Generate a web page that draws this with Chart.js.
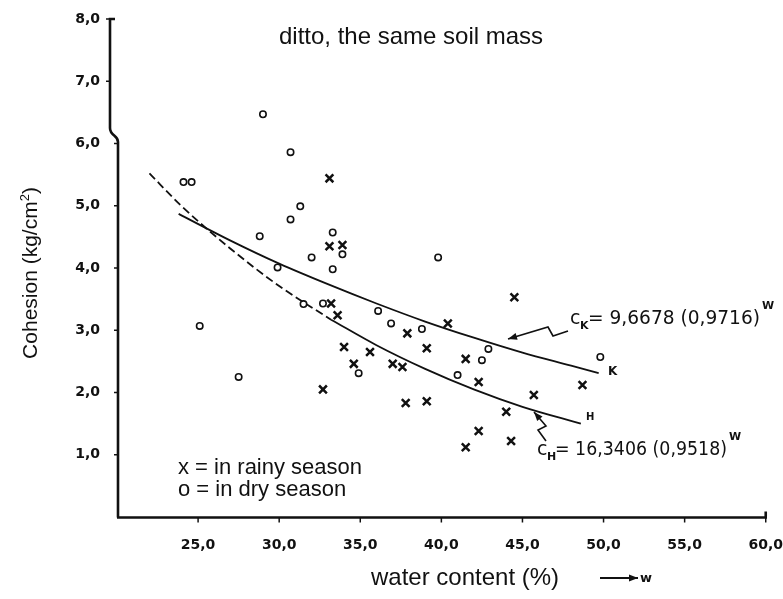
<!DOCTYPE html>
<html>
<head>
<meta charset="utf-8">
<script src="https://cdn.jsdelivr.net/npm/chart.js@4.4.1/dist/chart.umd.min.js"></script>
<style>
  body { margin: 0; background: #fff; }
  canvas { display: block; }
</style>
</head>
<body>
<canvas id="chart" width="783" height="599"></canvas>
<script>
// axis ticks
const xTicks = [25, 30, 35, 40, 45, 50, 55, 60];
const yTicks = [1, 2, 3, 4, 5, 6, 7, 8];

// o = dry season (water content %, cohesion kg/cm2)
const dryW = [29.0, 30.7, 24.1, 24.6, 31.3, 30.7, 28.8, 33.3, 33.9, 32.0, 29.9, 33.3, 39.8,
              31.5, 32.7, 36.1, 36.9, 25.1, 38.8, 34.9, 27.5, 42.9, 42.5, 41.0, 49.8];
const dryC = [6.47, 5.86, 5.38, 5.38, 4.99, 4.78, 4.51, 4.57, 4.22, 4.17, 4.01, 3.98, 4.17,
              3.42, 3.43, 3.31, 3.11, 3.07, 3.02, 2.31, 2.25, 2.70, 2.52, 2.28, 2.57];

// x = rainy season
const rainyW = [33.1, 33.1, 33.9, 33.2, 33.6, 44.5, 40.4, 34.0, 35.6, 37.9, 39.1, 34.6, 37.0,
                37.6, 41.5, 42.3, 32.7, 37.8, 39.1, 45.7, 44.0, 42.3, 44.3, 41.5, 48.7];
const rainyC = [5.44, 4.35, 4.37, 3.43, 3.24, 3.53, 3.11, 2.73, 2.65, 2.95, 2.71, 2.46, 2.46,
                2.41, 2.54, 2.17, 2.05, 1.83, 1.86, 1.96, 1.69, 1.38, 1.22, 1.12, 2.12];

// fitted curves
const kW = [23.8, 27, 30, 33, 36, 39, 42, 45, 48, 49.7];
const kC = [4.87, 4.44, 4.07, 3.74, 3.43, 3.14, 2.88, 2.64, 2.43, 2.31];
const hDashW = [22.0, 24, 27, 30, 33.2];
const hDashC = [5.52, 4.99, 4.31, 3.71, 3.17];
const hW = [33.2, 36, 39, 42, 45, 48.6];
const hC = [3.17, 2.76, 2.38, 2.05, 1.77, 1.50];

const ink = '#111';
const pts = (xs, ys) => xs.map((v, i) => ({ x: v, y: ys[i] }));
const fmt = v => Number(v).toFixed(1).replace('.', ',');

function arrow(ctx, p) {
  ctx.beginPath();
  ctx.moveTo(p[0][0], p[0][1]);
  for (let i = 1; i < p.length; i++) ctx.lineTo(p[i][0], p[i][1]);
  ctx.stroke();
  const a = p[p.length - 2], b = p[p.length - 1];
  const ang = Math.atan2(b[1] - a[1], b[0] - a[0]);
  ctx.save();
  ctx.translate(b[0], b[1]);
  ctx.rotate(ang);
  ctx.beginPath();
  ctx.moveTo(0, 0);
  ctx.lineTo(-9, -3.5);
  ctx.lineTo(-9, 3.5);
  ctx.closePath();
  ctx.fill();
  ctx.restore();
}

function formula(ctx, x, base, sub, body, bodyW, sup) {
  ctx.textAlign = 'left';
  ctx.textBaseline = 'alphabetic';
  ctx.font = '19px "DejaVu Sans"';
  ctx.fillText('c', x, base);
  ctx.font = 'bold 11px "DejaVu Sans"';
  ctx.fillText(sub, x + 10, base + 5);
  ctx.font = '19px "DejaVu Sans"';
  ctx.fillText(body, x + 18, base, bodyW);
  ctx.font = 'bold 11px "DejaVu Sans"';
  ctx.fillText(sup, x + 18 + bodyW + 2, base - 15);
}

const decor = {
  id: 'decor',
  afterDraw(chart) {
    const ctx = chart.ctx;
    const xs = chart.scales.x, ys = chart.scales.y;
    const bottom = Math.round(ys.getPixelForValue(0)) + 0.5;
    const right = xs.getPixelForValue(60);
    const top = ys.getPixelForValue(8);
    ctx.save();
    ctx.strokeStyle = ink;
    ctx.fillStyle = ink;

    // y axis with its kink near 6,0
    ctx.lineWidth = 2.6;
    ctx.beginPath();
    ctx.moveTo(118, bottom);
    ctx.lineTo(118, 142);
    ctx.bezierCurveTo(118, 135, 110, 136, 110, 128);
    ctx.lineTo(110, top);
    ctx.lineTo(115, top);
    ctx.stroke();
    // x axis
    ctx.beginPath();
    ctx.moveTo(117, bottom);
    ctx.lineTo(right, bottom);
    ctx.lineTo(right, bottom - 6);
    ctx.stroke();
    // tick marks
    ctx.lineWidth = 1.5;
    yTicks.forEach(v => {
      const py = ys.getPixelForValue(v);
      const ax = py < 135 ? 110 : 118;
      ctx.beginPath();
      ctx.moveTo(ax - 4, py);
      ctx.lineTo(ax, py);
      ctx.stroke();
    });
    xTicks.forEach(v => {
      const px = xs.getPixelForValue(v);
      ctx.beginPath();
      ctx.moveTo(px, bottom);
      ctx.lineTo(px, bottom + 5);
      ctx.stroke();
    });

    // title and axis titles
    ctx.textBaseline = 'middle';
    ctx.textAlign = 'center';
    ctx.font = '24px "Liberation Sans"';
    ctx.fillText('ditto, the same soil mass', 411, 37);
    ctx.fillText('water content (%)', 465, 578);
    ctx.save();
    ctx.translate(31, 273);
    ctx.rotate(-Math.PI / 2);
    ctx.font = '21px "Liberation Sans"';
    const t1 = 'Cohesion (kg/cm', t2 = ')';
    const w1 = ctx.measureText(t1).width;
    ctx.font = '13px "Liberation Sans"';
    const ws = ctx.measureText('2').width;
    ctx.font = '21px "Liberation Sans"';
    const w2 = ctx.measureText(t2).width;
    const x0 = -(w1 + ws + w2) / 2;
    ctx.textAlign = 'left';
    ctx.fillText(t1, x0, 0);
    ctx.font = '13px "Liberation Sans"';
    ctx.fillText('2', x0 + w1, -6);
    ctx.font = '21px "Liberation Sans"';
    ctx.fillText(t2, x0 + w1 + ws, 0);
    ctx.restore();

    // arrow to w
    ctx.lineWidth = 2;
    arrow(ctx, [[600, 578], [638, 578]]);
    ctx.textAlign = 'left';
    ctx.font = 'bold 13px "DejaVu Sans"';
    ctx.fillText('w', 640, 579);

    // legend text
    ctx.font = '22px "Liberation Sans"';
    ctx.fillText('x = in rainy season', 178, 468);
    ctx.fillText('o = in dry season', 178, 490);

    // curve labels
    ctx.font = 'bold 12px "DejaVu Sans"';
    ctx.fillText('K', 608, 372);
    ctx.font = 'bold 10px "DejaVu Sans"';
    ctx.fillText('H', 586, 417);

    formula(ctx, 570, 324, 'K', '= 9,6678 (0,9716)', 172, 'W');
    formula(ctx, 537, 455, 'H', '= 16,3406 (0,9518)', 172, 'W');

    ctx.lineWidth = 1.6;
    arrow(ctx, [[568, 331], [553, 336], [548, 327], [508, 339]]);
    arrow(ctx, [[546, 441], [538, 430], [546, 426], [534, 412]]);
    ctx.restore();
  }
};

new Chart(document.getElementById('chart'), {
  type: 'scatter',
  data: {
    datasets: [
      { type: 'line', data: pts(kW, kC), borderColor: ink, borderWidth: 1.8,
        pointRadius: 0, cubicInterpolationMode: 'monotone', order: 3 },
      { type: 'line', data: pts(hDashW, hDashC), borderColor: ink, borderWidth: 1.8,
        borderDash: [8, 4], pointRadius: 0, cubicInterpolationMode: 'monotone', order: 3 },
      { type: 'line', data: pts(hW, hC), borderColor: ink, borderWidth: 1.8,
        pointRadius: 0, cubicInterpolationMode: 'monotone', order: 3 },
      { data: pts(dryW, dryC), pointStyle: 'circle', pointRadius: 3.2, borderWidth: 1.6,
        borderColor: ink, backgroundColor: '#fff', order: 1 },
      { data: pts(rainyW, rainyC), pointStyle: 'crossRot', pointRadius: 5.5, borderWidth: 2.5,
        borderColor: ink, order: 1 }
    ]
  },
  options: {
    responsive: false,
    animation: false,
    events: [],
    layout: { padding: { top: 19, right: 17, left: 0, bottom: 0 } },
    plugins: { legend: { display: false }, tooltip: { enabled: false } },
    scales: {
      x: {
        type: 'linear', min: 20, max: 60,
        afterBuildTicks: s => { s.ticks = xTicks.map(v => ({ value: v })); },
        afterFit: s => { s.height = 82; },
        border: { display: false },
        grid: { drawOnChartArea: false, drawTicks: true, tickLength: 20, color: 'rgba(0,0,0,0)' },
        ticks: { autoSkip: false, maxRotation: 0, padding: 0, color: ink,
                 font: { family: 'DejaVu Sans', size: 14, weight: 'bold' }, callback: fmt }
      },
      y: {
        type: 'linear', min: 0, max: 8,
        afterBuildTicks: s => { s.ticks = yTicks.map(v => ({ value: v })); },
        afterFit: s => { s.width = 117; },
        border: { display: false },
        grid: { drawOnChartArea: false, drawTicks: true, tickLength: 17, color: 'rgba(0,0,0,0)' },
        ticks: { autoSkip: false, padding: 0, color: ink,
                 font: { family: 'DejaVu Sans', size: 14, weight: 'bold' }, callback: fmt }
      }
    }
  },
  plugins: [decor]
});
</script>
</body>
</html>
